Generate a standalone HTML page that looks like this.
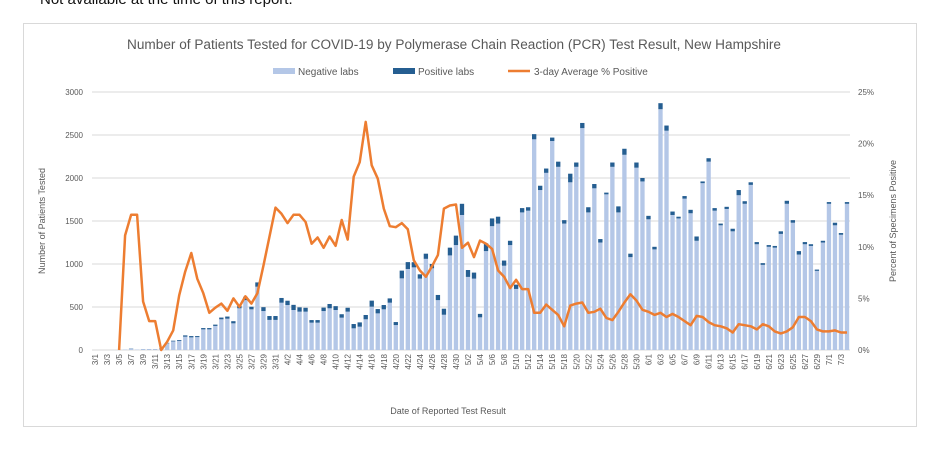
<!DOCTYPE html>
<html><head><meta charset="utf-8"><style>
body{margin:0;background:#fff;width:952px;height:458px;overflow:hidden;font-family:"Liberation Sans",sans-serif}
#top{position:absolute;left:40px;top:-9px;font-size:15px;color:#111}
#box{position:absolute;left:23px;top:23px;width:894px;height:404px;border:1px solid #d9d9d9;box-sizing:border-box}
</style></head><body>
<div id="top">Not available at the time of this report.</div>
<div id="box"></div>
<svg id="chart" width="952" height="458" style="position:absolute;left:0;top:0"></svg>
<script>
const labels=[];
const negTotals=[0,0,0,0,0,5,15,5,10,10,10,20,78,100,105,155,147,150,240,240,280,357,364,310,485,580,473,736,453,350,350,
550,523,465,446,446,318,318,453,485,465,376,446,252,271,357,504,426,473,550,290,833,942,961,830,1060,950,580,410,1100,1220,
1570,850,830,380,1150,1440,1470,980,1220,710,1600,1620,2450,1860,2060,2430,2130,1470,1950,2130,2580,1600,1880,1250,1810,2130,1600,2270,1080,2120,1960,
1520,1170,2800,2550,1570,1530,1760,1590,1270,1940,2190,1620,1450,1640,1380,1800,1700,1920,1230,990,1200,1190,1350,1700,1480,1110,1230,1210,920,1250,
1700,1450,1340,1700];
const posValues=[0,0,0,0,0,0,3,0,1,1,1,2,5,8,10,15,15,12,15,15,15,20,25,25,30,40,30,50,45,45,45,
55,50,60,50,45,30,30,40,50,45,40,45,50,50,50,70,50,50,50,35,90,80,60,50,60,50,60,70,90,110,
130,80,70,40,90,90,80,60,50,50,50,40,60,50,50,40,60,40,100,50,60,60,50,40,20,50,70,70,40,60,40,
40,30,70,60,40,20,30,40,50,20,40,30,20,25,30,60,30,30,25,20,20,20,30,35,30,40,25,20,15,20,
20,30,20,20];
const pctValues=[null,null,null,null,0,11.1,13.1,13.1,4.7,2.8,2.8,0,0.8,1.9,5.3,7.6,9.4,6.9,5.5,3.6,4.1,4.5,3.8,5.0,4.2,5.2,4.5,5.5,8.2,11.0,13.8,
13.2,12.3,13.1,13.1,12.4,10.3,10.9,9.9,11.0,10.1,12.6,10.7,16.8,18.2,22.1,17.9,16.6,13.7,12.0,11.9,12.3,11.7,8.7,7.7,7.1,8.1,9.2,13.7,14.0,14.1,
9.9,10.4,9.0,10.6,10.3,9.8,7.7,7.1,6.0,6.8,5.9,5.9,3.6,3.6,4.4,3.9,3.4,2.3,4.3,4.5,4.6,3.6,3.7,4.0,3.1,2.9,3.7,4.6,5.4,4.8,3.9,
3.7,3.4,3.6,3.2,3.5,3.2,2.8,2.4,3.3,3.2,2.7,2.4,2.3,2.1,1.7,2.5,2.4,2.3,2.0,2.5,2.3,1.8,1.6,1.8,2.2,3.2,3.2,2.8,2.0,1.8,
1.8,1.9,1.7,1.7];
const leftTicks=[0,500,1000,1500,2000,2500,3000];
const rightTicks=[0,5,10,15,20,25];
(function(){const m=[3,4,5,6,7];const d=[31,30,31,30,4];for(let i=0;i<5;i++)for(let j=1;j<=d[i];j++)labels.push(m[i]+'/'+j);})();
const svg=document.getElementById('chart');const NS='http://www.w3.org/2000/svg';
const X0=92,X1=850,Y0=350,Y1=92;
const bw=(X1-X0)/labels.length;
const xc=i=>X0+bw*(i+0.5);
const yL=v=>Y0-(v/3000)*(Y0-Y1);
const yR=v=>Y0-(v/25)*(Y0-Y1);
function el(t,a,txt){const e=document.createElementNS(NS,t);for(const k in a)e.setAttribute(k,a[k]);if(txt!=null)e.textContent=txt;svg.appendChild(e);return e;}
leftTicks.forEach((t,i)=>{
 const g=el('line',{x1:X0,x2:X1,y1:yL(t),y2:yL(t),stroke:'#d9d9d9','stroke-width':1});
 
 
 const tx=el('text',{x:83,y:yL(t)+3,'text-anchor':'end','font-size':8,fill:'#595959'},t);
 
 
});
rightTicks.forEach(t=>{
 const tx=el('text',{x:858,y:yR(t)+3,'font-size':8,fill:'#595959'},t+'%');
 
 
});
labels.forEach((l,i)=>{
 const w=bw*0.72,x=xc(i)-w/2;
 const n=negTotals[i],p=posValues[i];
 const r1=el('rect',{x:x,y:yL(n),width:w,height:Y0-yL(n),fill:'#b4c7e7'});
 
 
 const r2=el('rect',{x:x,y:yL(n+p),width:w,height:yL(n)-yL(n+p),fill:'#255e91'});
 
 
 if(i%2===0){const tx=el('text',{transform:`translate(${xc(i)+3},354) rotate(-90)`,'text-anchor':'end','font-size':8,fill:'#595959'},l);
 
 }
});
let d='';pctValues.forEach((v,i)=>{if(v==null)return;d+=(d?'L':'M')+xc(i).toFixed(1)+','+yR(v).toFixed(1);});
const ln=el('path',{d:d,fill:'none',stroke:'#ed7d31','stroke-width':2.5,'stroke-linejoin':'round'});


const t=el('text',{x:454,y:49,'text-anchor':'middle','font-size':13.5,fill:'#595959',textLength:654,lengthAdjust:'spacingAndGlyphs'},'Number of Patients Tested for COVID-19 by Polymerase Chain Reaction (PCR) Test Result, New Hampshire');


const l1=el('rect',{x:273,y:68,width:22,height:6,fill:'#b4c7e7'});


const l1t=el('text',{x:298,y:75,'font-size':10,fill:'#595959'},'Negative labs');


const l2=el('rect',{x:393,y:68,width:22,height:6,fill:'#255e91'});


const l2t=el('text',{x:418,y:75,'font-size':10,fill:'#595959'},'Positive labs');


const l3=el('line',{x1:508,x2:530,y1:71,y2:71,stroke:'#ed7d31','stroke-width':2.5});


const l3t=el('text',{x:534,y:75,'font-size':10,fill:'#595959'},'3-day Average % Positive');


const yt=el('text',{transform:'translate(45,221) rotate(-90)','text-anchor':'middle','font-size':9,fill:'#595959'},'Number of Patients Tested');


const yt2=el('text',{transform:'translate(896,221) rotate(-90)','text-anchor':'middle','font-size':9,fill:'#595959'},'Percent of Specimens Positive');


const xt=el('text',{x:448,y:414,'text-anchor':'middle','font-size':9,fill:'#595959'},'Date of Reported Test Result');


</script>
</body></html>
